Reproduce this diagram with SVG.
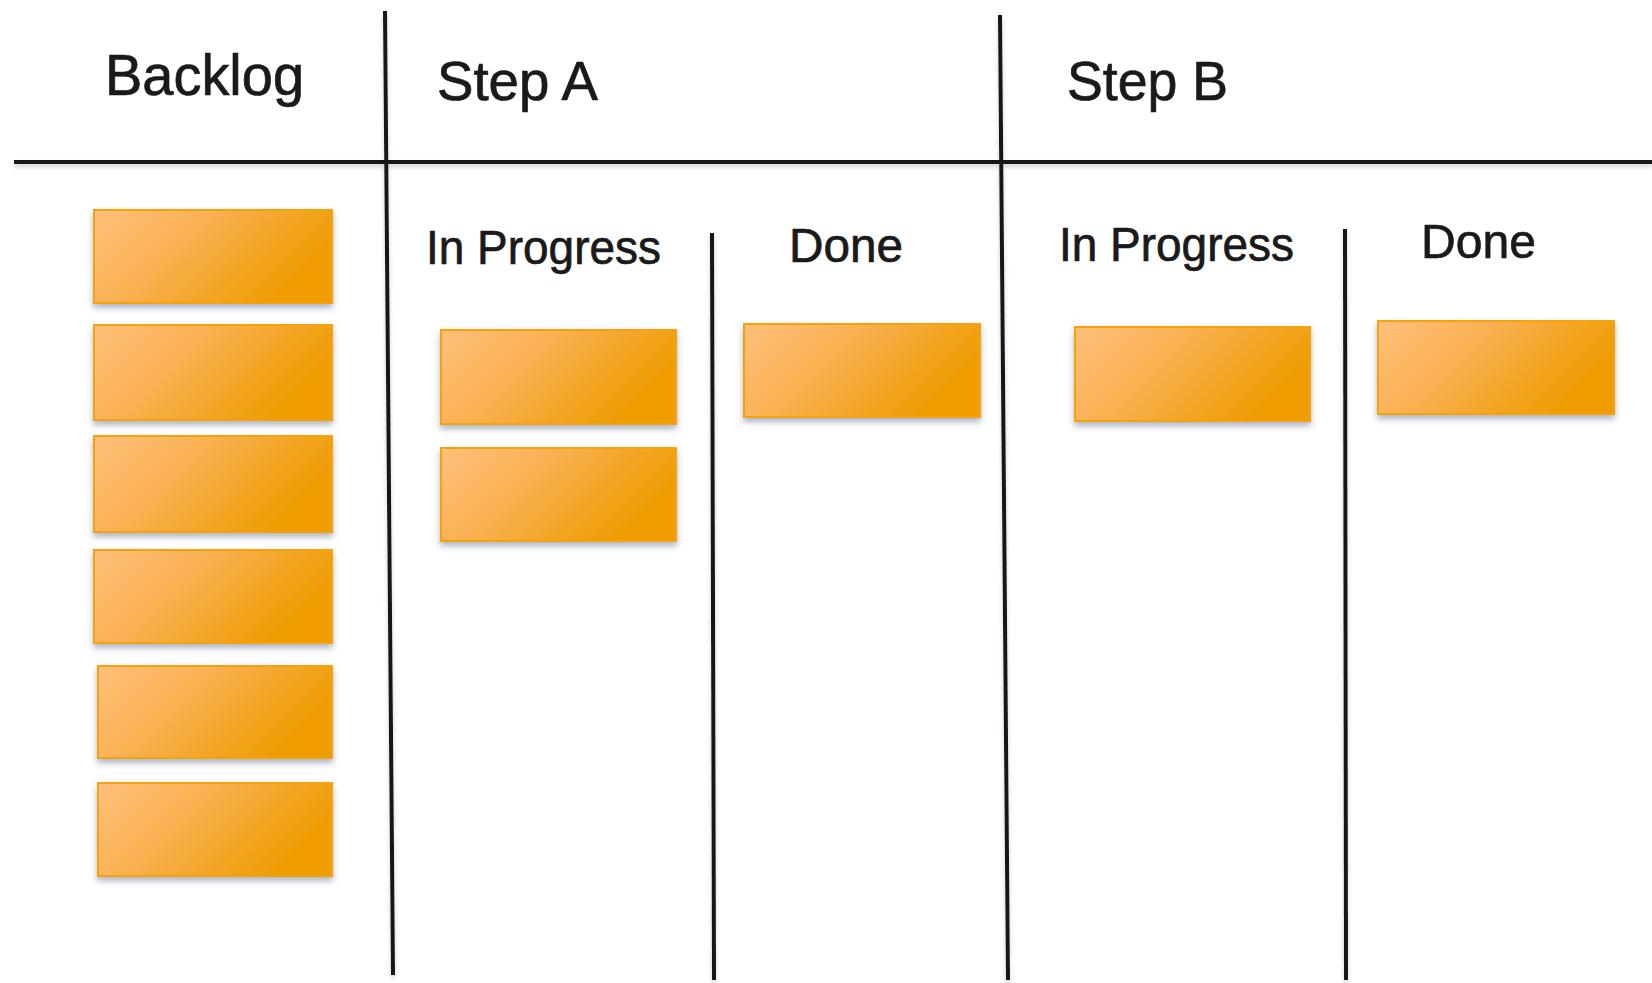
<svg xmlns="http://www.w3.org/2000/svg" width="1652" height="983" viewBox="0 0 1652 983">
<style>
.lbl{font-family:"Liberation Sans",Arial,sans-serif;fill:#1a1a1a;stroke:#1a1a1a;stroke-width:0.7px;}
.h1{font-size:57px;}
.h2{font-size:55px;}
.h3{font-size:48px;}
.card{fill:url(#cardGrad);stroke:#F6A208;stroke-width:2;filter:url(#shadow);}
.ln{stroke:#141414;stroke-width:4;fill:none;stroke-linecap:butt;}
</style>
<defs>
<linearGradient id="cardGrad" x1="0" y1="0" x2="1" y2="0.4">
<stop offset="0" stop-color="#FFC07C"/>
<stop offset="0.45" stop-color="#F9B050"/>
<stop offset="1" stop-color="#EE9C00"/>
</linearGradient>
<filter id="shadow" x="-10%" y="-20%" width="120%" height="150%">
<feDropShadow dx="0" dy="4" stdDeviation="3" flood-color="#4a5a7a" flood-opacity="0.45"/>
</filter>
<filter id="lshadow" x="-5%" y="-50%" width="110%" height="300%">
<feDropShadow dx="0" dy="3" stdDeviation="2" flood-color="#888" flood-opacity="0.4"/>
</filter>
</defs>
<rect width="1652" height="983" fill="#ffffff"/>
<g id="lines" filter="url(#lshadow)">
<line class="ln" x1="14" y1="162" x2="1652" y2="162"/>
<line class="ln" x1="385" y1="11" x2="393" y2="975"/>
<line class="ln" x1="712" y1="233" x2="714" y2="980"/>
<line class="ln" x1="1000" y1="15" x2="1008" y2="980"/>
<line class="ln" x1="1345" y1="229" x2="1346" y2="980"/>
</g>
<g id="header-backlog"><text class="lbl h1" x="105" y="95" textLength="199" lengthAdjust="spacingAndGlyphs">Backlog</text></g>
<g id="header-stepA"><text class="lbl h2" x="437" y="100" textLength="161" lengthAdjust="spacingAndGlyphs">Step A</text></g>
<g id="header-stepB"><text class="lbl h2" x="1067" y="100" textLength="161" lengthAdjust="spacingAndGlyphs">Step B</text></g>
<g id="sub-stepA-inprogress"><text class="lbl h3" x="426" y="264" textLength="235" lengthAdjust="spacingAndGlyphs">In Progress</text></g>
<g id="sub-stepA-done"><text class="lbl h3" x="789" y="262" textLength="114" lengthAdjust="spacingAndGlyphs">Done</text></g>
<g id="sub-stepB-inprogress"><text class="lbl h3" x="1059" y="261" textLength="235" lengthAdjust="spacingAndGlyphs">In Progress</text></g>
<g id="sub-stepB-done"><text class="lbl h3" x="1421" y="258" textLength="115" lengthAdjust="spacingAndGlyphs">Done</text></g>
<g id="backlog-card-1"><rect class="card" x="94" y="210" width="238" height="93"/></g>
<g id="backlog-card-2"><rect class="card" x="94" y="325" width="238" height="95"/></g>
<g id="backlog-card-3"><rect class="card" x="94" y="436" width="238" height="96"/></g>
<g id="backlog-card-4"><rect class="card" x="94" y="550" width="238" height="93"/></g>
<g id="backlog-card-5"><rect class="card" x="98" y="666" width="234" height="92"/></g>
<g id="backlog-card-6"><rect class="card" x="98" y="783" width="234" height="93"/></g>
<g id="stepA-inprogress-card-1"><rect class="card" x="441" y="330" width="235" height="94"/></g>
<g id="stepA-inprogress-card-2"><rect class="card" x="441" y="448" width="235" height="93"/></g>
<g id="stepA-done-card-1"><rect class="card" x="744" y="324" width="236" height="93"/></g>
<g id="stepB-inprogress-card-1"><rect class="card" x="1075" y="327" width="235" height="94"/></g>
<g id="stepB-done-card-1"><rect class="card" x="1378" y="321" width="236" height="93"/></g>
</svg>
